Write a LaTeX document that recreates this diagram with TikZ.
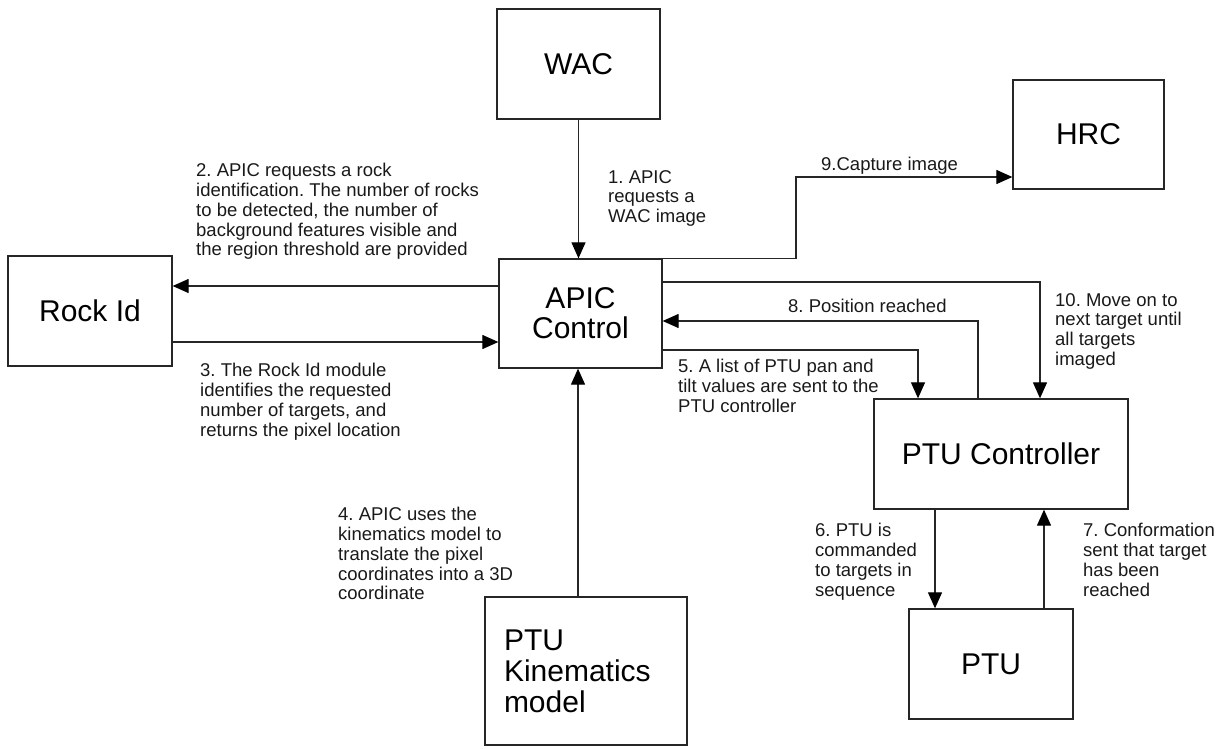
\documentclass[tikz,border=0pt]{standalone}
\usepackage{fontspec}
\setmainfont{Liberation Sans}
\usetikzlibrary{arrows.meta}
\frenchspacing
\begin{document}
\begin{tikzpicture}[x=1pt,y=-1pt,
  box/.style={draw=black!85, line width=1.3pt, rectangle, inner sep=0pt, font=\fontsize{30}{31}\selectfont},
  lbl/.style={anchor=north west, inner sep=0pt, align=left, text=black!90, font=\fontsize{18.5}{19.8}\selectfont},
  arr/.style={draw=black!85, line width=1.2pt, -{Triangle[length=16pt,width=14pt,fill=black,color=black]}},
  ln/.style={draw=black!85, line width=1.2pt}]
\useasboundingbox (0,0) rectangle (1219,749);
% boxes
\node[box, minimum width=163pt, minimum height=110pt] (wac) at (578.5,64) {WAC};
\node[box, minimum width=151pt, minimum height=109pt] (hrc) at (1088.5,134.5) {HRC};
\node[box, minimum width=164pt, minimum height=110pt] (rock) at (90,311) {Rock Id};
\node[box, minimum width=163pt, minimum height=109pt, align=center] (apic) at (580.5,313.5) {APIC\\[-1pt]Control};
\node[box, minimum width=254pt, minimum height=110pt] (ptuc) at (1001,454) {PTU Controller};
\node[box, minimum width=164pt, minimum height=110pt] (ptu) at (991,664) {PTU};
\node[box, minimum width=202pt, minimum height=148pt, text width=164pt, align=left] (kin) at (586,671) {PTU\\Kinematics\\model};
% connectors
\draw[arr] (wac.south) -- (wac.south |- apic.north);
\draw[arr] ([yshift=27.5pt]apic.west) -- ([yshift=27.5pt]apic.west -| rock.east);
\draw[arr] ([yshift=-31pt]rock.east) -- ([yshift=-31pt]rock.east -| apic.west);
\draw[arr] ([xshift=-8pt]kin.north) -- ([xshift=-8pt]kin.north |- apic.south);
\coordinate (c9) at (796,177);
\draw[arr] (apic.north east) -| (c9) -- (c9 -| hrc.west);
\draw[arr] ([yshift=31.5pt]apic.east) -| ([xshift=39pt]ptuc.north);
\draw[arr] ([xshift=-23pt]ptuc.north) |- ([yshift=-7.5pt]apic.east);
\draw[arr] ([yshift=-36.5pt]apic.east) -| ([xshift=-83pt]ptuc.north);
\draw[arr] ([xshift=-66pt]ptuc.south) -- ([xshift=-66pt]ptuc.south |- ptu.north);
\draw[arr] ([xshift=53pt]ptu.north) -- ([xshift=53pt]ptu.north |- ptuc.south);
% labels
\node[lbl] (l1) at (608,170) {1. APIC\\requests a\\WAC image};
\node[lbl] (l2) at (196,163) {2. APIC requests a rock\\identification. The number of rocks\\to be detected, the number of\\background features visible and\\the region threshold are provided};
\node[lbl] (l3) at (200,363) {3. The Rock Id module\\identifies the requested\\number of targets, and\\returns the pixel location};
\node[lbl] (l4) at (338,507) {4. APIC uses the\\kinematics model to\\translate the pixel\\coordinates into a 3D\\coordinate};
\node[lbl] (l5) at (678,359) {5. A list of PTU pan and\\tilt values are sent to the\\PTU controller};
\node[lbl] (l6) at (815,523) {6. PTU is\\commanded\\to targets in\\sequence};
\node[lbl] (l7) at (1083,523) {7. Conformation\\sent that target\\has been\\reached};
\node[lbl] (l8) at (788,299) {8. Position reached};
\node[lbl] (l9) at (821,157) {9.Capture image};
\node[lbl] (l10) at (1055,293) {10. Move on to\\next target until\\all targets\\imaged};
\end{tikzpicture}
\end{document}
